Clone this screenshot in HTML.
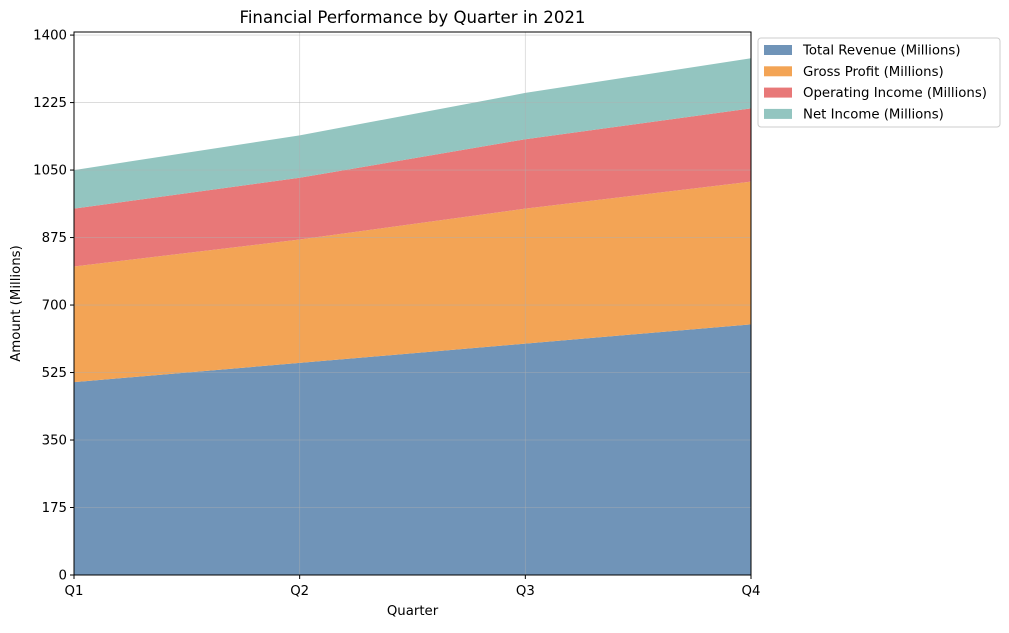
<!DOCTYPE html>
<html><head><meta charset="utf-8"><style>
body{margin:0;background:#fff;font-family:"Liberation Sans","DejaVu Sans",sans-serif;}
svg text{font-family:"DejaVu Sans","Liberation Sans",sans-serif;fill:#000}
</style></head><body>
<svg id="chart" width="1009" height="628"></svg>
<script>
const categories=["Q1","Q2","Q3","Q4"];
const revenue=[500,550,600,650];
const grossProfit=[300,320,350,370];
const operatingIncome=[150,160,180,190];
const netIncome=[100,110,120,130];
const yTicks=[0,175,350,525,700,875,1050,1225,1400];
const seriesNames=["Total Revenue (Millions)","Gross Profit (Millions)","Operating Income (Millions)","Net Income (Millions)"];
const colors=["#7094b8","#f3a455","#e87878","#93c5c0"];
const NS="http://www.w3.org/2000/svg";
const svg=document.getElementById('chart');
const L=74,R=751,T=32,B=575,yMax=1408;
const x=i=>L+(R-L)*i/(categories.length-1);
const y=v=>B-(B-T)*v/yMax;
function el(t,a,p){const e=document.createElementNS(NS,t);for(const k in a)e.setAttribute(k,a[k]);(p||svg).appendChild(e);return e;}
const all=[revenue,grossProfit,operatingIncome,netIncome];
let base=categories.map(()=>0);
all.forEach((s,si)=>{
  const top=s.map((v,i)=>base[i]+v);
  let d="M"+categories.map((c,i)=>x(i)+","+y(top[i])).join(" L");
  for(let i=categories.length-1;i>=0;i--)d+=" L"+x(i)+","+y(base[i]);
  const p=el('path',{d:d+"Z",fill:colors[si]});
  
  
  base=top;
});
categories.forEach((c,i)=>{const g=el('line',{x1:x(i),x2:x(i),y1:T,y2:B,stroke:'#b0b0b0','stroke-opacity':0.5,'stroke-width':0.8});
});
yTicks.forEach(v=>{const g=el('line',{x1:L,x2:R,y1:y(v),y2:y(v),stroke:'#b0b0b0','stroke-opacity':0.5,'stroke-width':0.8});
});
const fr=el('rect',{x:L,y:T,width:R-L,height:B-T,fill:'none',stroke:'#000','stroke-width':1});

yTicks.forEach(v=>{el('line',{x1:L-4,x2:L,y1:y(v),y2:y(v),stroke:'#000'});
const t=el('text',{x:L-7,y:y(v)+4.5,'text-anchor':'end','font-size':13.3});t.textContent=v;
});
categories.forEach((c,i)=>{el('line',{x1:x(i),x2:x(i),y1:B,y2:B+4,stroke:'#000'});
const t=el('text',{x:x(i),y:B+20,'text-anchor':'middle','font-size':13.3});t.textContent=c;
});
let t=el('text',{x:(L+R)/2,y:23,'text-anchor':'middle','font-size':16.6});t.textContent="Financial Performance by Quarter in 2021";

t=el('text',{x:(L+R)/2,y:615,'text-anchor':'middle','font-size':13.3});t.textContent="Quarter";

t=el('text',{x:20,y:(T+B)/2,'text-anchor':'middle','font-size':13.3,transform:`rotate(-90 20 ${(T+B)/2})`});t.textContent="Amount (Millions)";

const lg=el('g',{});
el('rect',{x:758,y:38,width:242,height:89,rx:3,fill:'#fff',stroke:'#ccc'},lg);
seriesNames.forEach((n,i)=>{const yy=50+i*21.3;
el('rect',{x:764,y:yy-5,width:28,height:10,fill:colors[i]},lg);
const tt=el('text',{x:803,y:yy+4.5,'font-size':13.3},lg);tt.textContent=n;
});
</script>
</body></html>
